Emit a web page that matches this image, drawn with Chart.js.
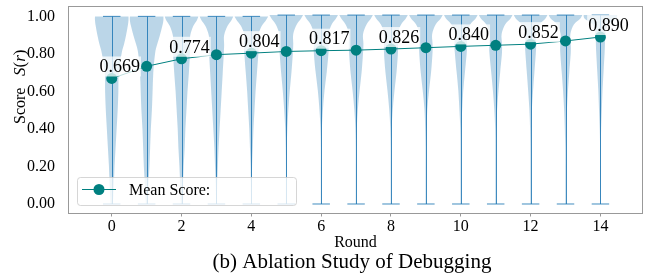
<!DOCTYPE html>
<html>
<head>
<meta charset="utf-8">
<script src="https://cdn.jsdelivr.net/npm/chart.js@4.4.0/dist/chart.umd.min.js"></script>
<style>
html, body { margin: 0; padding: 0; background: #fff; }
#wrap { width: 657px; height: 280px; }
</style>
</head>
<body>
<div id="wrap"><canvas id="scoreChart" width="657" height="280"></canvas></div>
<script>
// data
const rounds = [0, 1, 2, 3, 4, 5, 6, 7, 8, 9, 10, 11, 12, 13, 14];
const meanScores = [0.669, 0.734, 0.774, 0.796, 0.804, 0.813, 0.817, 0.820, 0.826, 0.833, 0.840, 0.846, 0.852, 0.869, 0.890];
const minScores = [0, 0, 0, 0, 0, 0, 0, 0, 0, 0, 0, 0, 0, 0, 0];
const maxScores = [1.0, 1.0, 1.0, 1.0, 1.0, 1.007, 1.007, 1.007, 1.007, 1.007, 1.007, 1.007, 1.007, 1.007, 1.007];
const labelRounds = [0, 2, 4, 6, 8, 10, 12, 14];
const xTicks = [0, 2, 4, 6, 8, 10, 12, 14];
const yTicks = [0, 0.2, 0.4, 0.6, 0.8, 1.0];

// violin half-widths (in rounds) at each fraction of the min..max span
const densityLevels = [0, 0.1, 0.2, 0.3, 0.4, 0.5, 0.6, 0.7, 0.8, 0.85, 0.9, 0.95, 0.98, 1.0];
const violinWidths = [
    [0.03, 0.06, 0.08, 0.11, 0.14, 0.17, 0.19, 0.20, 0.28, 0.35, 0.41, 0.46, 0.48, 0.48],
    [0.02, 0.05, 0.08, 0.10, 0.12, 0.15, 0.17, 0.19, 0.24, 0.30, 0.38, 0.45, 0.48, 0.48],
    [0.02, 0.04, 0.06, 0.09, 0.11, 0.14, 0.17, 0.21, 0.24, 0.24, 0.25, 0.34, 0.44, 0.48],
    [0.01, 0.02, 0.04, 0.06, 0.09, 0.12, 0.15, 0.18, 0.21, 0.22, 0.22, 0.32, 0.43, 0.48],
    [0.01, 0.015, 0.02, 0.04, 0.06, 0.09, 0.12, 0.16, 0.20, 0.21, 0.20, 0.30, 0.42, 0.48],
    [0.01, 0.01, 0.01, 0.015, 0.03, 0.06, 0.10, 0.15, 0.19, 0.20, 0.20, 0.30, 0.42, 0.48],
    [0.01, 0.01, 0.01, 0.01, 0.02, 0.05, 0.095, 0.16, 0.21, 0.21, 0.21, 0.30, 0.42, 0.48],
    [0.01, 0.01, 0.01, 0.01, 0.02, 0.05, 0.10, 0.16, 0.20, 0.21, 0.20, 0.30, 0.42, 0.48],
    [0.01, 0.01, 0.01, 0.01, 0.02, 0.05, 0.10, 0.16, 0.20, 0.20, 0.19, 0.29, 0.42, 0.48],
    [0.01, 0.01, 0.01, 0.01, 0.02, 0.04, 0.09, 0.15, 0.19, 0.19, 0.18, 0.28, 0.42, 0.48],
    [0.01, 0.01, 0.01, 0.01, 0.015, 0.04, 0.07, 0.12, 0.17, 0.18, 0.17, 0.27, 0.42, 0.48],
    [0.01, 0.01, 0.01, 0.01, 0.015, 0.04, 0.08, 0.13, 0.18, 0.18, 0.17, 0.27, 0.42, 0.48],
    [0.01, 0.01, 0.01, 0.01, 0.015, 0.035, 0.07, 0.11, 0.15, 0.16, 0.16, 0.26, 0.42, 0.48],
    [0.01, 0.01, 0.01, 0.01, 0.02, 0.04, 0.07, 0.11, 0.15, 0.15, 0.14, 0.24, 0.42, 0.48],
    [0.01, 0.01, 0.01, 0.01, 0.02, 0.04, 0.06, 0.09, 0.12, 0.13, 0.14, 0.22, 0.45, 0.48]
];

const SERIF = "'Liberation Serif', 'Times New Roman', serif";
const TEAL = '#008080';

function curveThrough(ctx, pts) {
    for (let i = 0; i < pts.length - 1; i++) {
        const p0 = pts[i - 1] || pts[i];
        const p1 = pts[i];
        const p2 = pts[i + 1];
        const p3 = pts[i + 2] || p2;
        ctx.bezierCurveTo(
            p1.x + (p2.x - p0.x) / 6, p1.y + (p2.y - p0.y) / 6,
            p2.x - (p3.x - p1.x) / 6, p2.y - (p3.y - p1.y) / 6,
            p2.x, p2.y);
    }
}

const violinPlugin = {
    id: 'violins',
    beforeDatasetsDraw(chart) {
        const ctx = chart.ctx;
        const xs = chart.scales.x;
        const ys = chart.scales.y;
        ctx.save();
        rounds.forEach((r, i) => {
            const lo = minScores[i], hi = maxScores[i];
            const right = densityLevels.map((lv, k) => ({
                x: xs.getPixelForValue(r + violinWidths[i][k]),
                y: ys.getPixelForValue(lo + lv * (hi - lo))
            }));
            const left = densityLevels.map((lv, k) => ({
                x: xs.getPixelForValue(r - violinWidths[i][k]),
                y: ys.getPixelForValue(lo + lv * (hi - lo))
            })).reverse();
            ctx.beginPath();
            ctx.moveTo(right[0].x, right[0].y);
            curveThrough(ctx, right);
            ctx.lineTo(left[0].x, left[0].y);
            curveThrough(ctx, left);
            ctx.closePath();
            ctx.fillStyle = 'rgba(31,119,180,0.3)';
            ctx.fill();
        });
        // bars and caps
        ctx.strokeStyle = 'rgba(31,119,180,0.85)';
        ctx.lineWidth = 1;
        rounds.forEach((r, i) => {
            const cx = Math.round(xs.getPixelForValue(r)) + 0.5;
            const yLo = ys.getPixelForValue(minScores[i]);
            const yHi = ys.getPixelForValue(maxScores[i]);
            const c0 = xs.getPixelForValue(r - 0.25);
            const c1 = xs.getPixelForValue(r + 0.25);
            ctx.beginPath();
            ctx.moveTo(cx, yLo);
            ctx.lineTo(cx, yHi);
            ctx.moveTo(c0, yLo);
            ctx.lineTo(c1, yLo);
            ctx.moveTo(c0, yHi);
            ctx.lineTo(c1, yHi);
            ctx.stroke();
        });
        ctx.restore();
    },
    afterDatasetsDraw(chart) {
        const ctx = chart.ctx;
        const xs = chart.scales.x;
        const ys = chart.scales.y;
        ctx.save();
        ctx.font = '18px ' + SERIF;
        ctx.textAlign = 'center';
        ctx.textBaseline = 'middle';
        labelRounds.forEach(r => {
            const i = rounds.indexOf(r);
            const txt = meanScores[i].toFixed(3);
            const tx = xs.getPixelForValue(r) + 8;
            const ty = ys.getPixelForValue(meanScores[i]) - 12;
            const w = ctx.measureText(txt).width;
            ctx.fillStyle = 'rgba(255,255,255,0.75)';
            ctx.fillRect(tx - w / 2 - 1, ty - 10, w + 2, 20);
            ctx.fillStyle = '#000';
            ctx.fillText(txt, tx, ty + 1);
        });
        ctx.restore();
    },
    afterDraw(chart) {
        const ctx = chart.ctx;
        const a = chart.chartArea;
        ctx.save();
        // frame
        ctx.strokeStyle = '#999';
        ctx.lineWidth = 1;
        ctx.strokeRect(Math.round(a.left) + 0.5, Math.round(a.top) + 0.5,
            Math.round(a.right - a.left) - 1, Math.round(a.bottom - a.top) - 1);

        // legend
        ctx.beginPath();
        ctx.roundRect(77.5, 177.5, 219, 28, 3);
        ctx.fillStyle = 'rgba(255,255,255,0.8)';
        ctx.fill();
        ctx.strokeStyle = 'rgba(204,204,204,0.8)';
        ctx.stroke();
        ctx.strokeStyle = TEAL;
        ctx.beginPath();
        ctx.moveTo(82, 189.5);
        ctx.lineTo(116, 189.5);
        ctx.stroke();
        ctx.fillStyle = TEAL;
        ctx.beginPath();
        ctx.arc(99, 189.5, 5.5, 0, Math.PI * 2);
        ctx.fill();
        ctx.fillStyle = '#000';
        ctx.font = '16px ' + SERIF;
        ctx.textAlign = 'left';
        ctx.textBaseline = 'alphabetic';
        ctx.fillText('Mean Score:', 129, 195);

        // x title and caption
        ctx.textAlign = 'center';
        ctx.font = '16px ' + SERIF;
        ctx.fillText('Round', (a.left + a.right) / 2, 246.5);
        ctx.font = '21px ' + SERIF;
        ctx.fillText('(b) Ablation Study of Debugging', 352, 268);

        // y title: Score  S(r)
        ctx.translate(25, 124);
        ctx.rotate(-Math.PI / 2);
        ctx.textAlign = 'left';
        ctx.font = '16px ' + SERIF;
        ctx.fillText('Score', 0, 0);
        let x = 48;
        const parts = [['S', true], ['(', false], ['r', true], [')', false]];
        parts.forEach(([t, it]) => {
            ctx.font = (it ? 'italic ' : '') + '17px ' + SERIF;
            ctx.fillText(t, x, 0);
            x += ctx.measureText(t).width;
        });
        ctx.restore();
    }
};

new Chart(document.getElementById('scoreChart').getContext('2d'), {
    type: 'line',
    data: {
        datasets: [{
            label: 'Mean Score:',
            data: rounds.map((r, i) => ({ x: r, y: meanScores[i] })),
            borderColor: TEAL,
            backgroundColor: TEAL,
            borderWidth: 1,
            pointRadius: 5.5,
            pointHoverRadius: 5.5,
            pointBorderWidth: 0,
            tension: 0
        }]
    },
    options: {
        responsive: false,
        animation: false,
        devicePixelRatio: 1,
        layout: { padding: { top: 5, right: 14, left: 0, bottom: 0 } },
        plugins: {
            legend: { display: false },
            tooltip: { enabled: false }
        },
        scales: {
            x: {
                type: 'linear',
                min: -1.253,
                max: 15.22,
                afterBuildTicks: s => { s.ticks = xTicks.map(v => ({ value: v })); },
                afterFit: s => { s.height = 67; s.paddingLeft = 0; s.paddingRight = 0; },
                grid: { drawOnChartArea: false, drawTicks: true, tickLength: 3.5, color: '#999' },
                border: { display: false },
                ticks: {
                    font: { family: SERIF, size: 16 },
                    color: '#000',
                    padding: 1,
                    maxRotation: 0
                }
            },
            y: {
                min: -0.048,
                max: 1.058,
                afterBuildTicks: s => { s.ticks = yTicks.map(v => ({ value: v })); },
                afterFit: s => { s.width = 68; s.paddingTop = 0; s.paddingBottom = 0; },
                grid: { display: false },
                border: { display: false },
                ticks: {
                    font: { family: SERIF, size: 16 },
                    color: '#000',
                    padding: 5,
                    callback: v => v.toFixed(2)
                }
            }
        }
    },
    plugins: [violinPlugin]
});
</script>
</body>
</html>
